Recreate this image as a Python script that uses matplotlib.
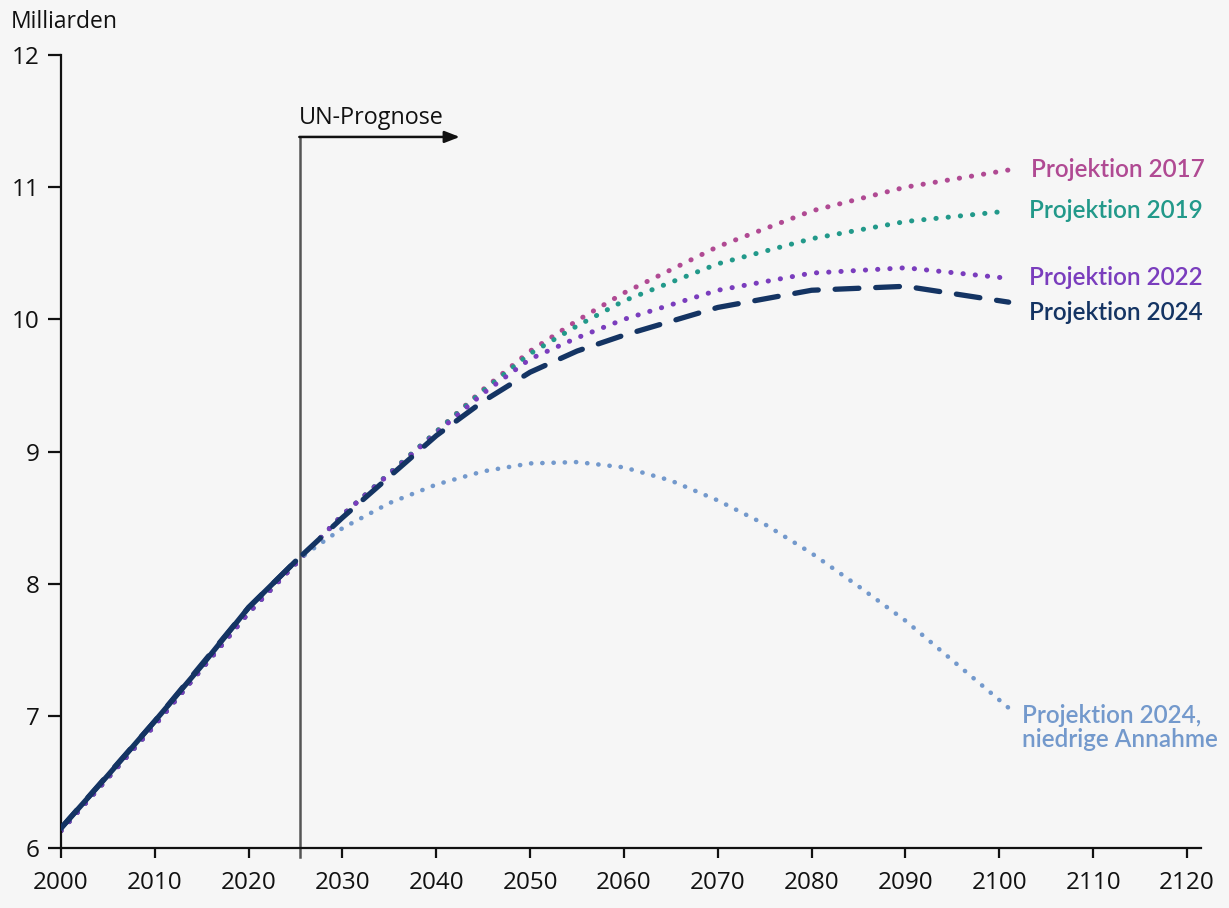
import matplotlib
matplotlib.use("Agg")
import matplotlib.pyplot as plt
import numpy as np

# ---- data (billions) ----
hist_years = [2000, 2005, 2010, 2015, 2020, 2025]
hist_vals = [6.15, 6.55, 6.96, 7.38, 7.82, 8.17]

years = [2000, 2010, 2020, 2025, 2030, 2040, 2045, 2050, 2055, 2060, 2070, 2080, 2090, 2101]
p2017 = [6.13, 6.93, 7.78, 8.15, 8.52, 9.15, 9.47, 9.76, 9.99, 10.20, 10.55, 10.82, 11.00, 11.13]
p2019 = [6.13, 6.93, 7.78, 8.15, 8.52, 9.15, 9.46, 9.74, 9.95, 10.14, 10.42, 10.61, 10.74, 10.82]
p2022 = [6.13, 6.93, 7.78, 8.15, 8.52, 9.14, 9.44, 9.70, 9.86, 10.00, 10.22, 10.35, 10.39, 10.31]
p2024 = [6.15, 6.96, 7.82, 8.17, 8.50, 9.12, 9.38, 9.60, 9.76, 9.88, 10.09, 10.22, 10.25, 10.13]
low_years = [2025, 2030, 2035, 2040, 2045, 2050, 2055, 2060, 2065, 2070, 2075, 2080, 2085, 2090, 2095, 2101]
low_vals = [8.17, 8.42, 8.61, 8.75, 8.85, 8.91, 8.92, 8.88, 8.78, 8.63, 8.45, 8.23, 7.98, 7.72, 7.42, 7.06]

xticks = [2000, 2010, 2020, 2030, 2040, 2050, 2060, 2070, 2080, 2090, 2100, 2110, 2120]
yticks = [6, 7, 8, 9, 10, 11, 12]

labels = ["Projektion 2017", "Projektion 2019", "Projektion 2022", "Projektion 2024",
          "Projektion 2024,\nniedrige Annahme"]
label_y = [11.13, 10.82, 10.32, 10.05, 6.91]

c2017 = "#b04a93"
c2019 = "#22998a"
c2022 = "#7a3dbd"
c2024 = "#143463"
clow = "#7399cc"
bg = "#f6f6f6"

plt.rcParams['font.family'] = ['Open Sans', 'DejaVu Sans']

fig = plt.figure(figsize=(12.29, 9.08), dpi=100, facecolor=bg)
ax = fig.add_axes([61/1229, 60/908, (1201-61)/1229, (848-55)/908])
ax.set_facecolor(bg)

dot = (0, (0.05, 2.4))
ax.plot(years, p2017, color=c2017, lw=3.6, linestyle=dot, dash_capstyle='round', zorder=2)
ax.plot(years, p2019, color=c2019, lw=3.6, linestyle=dot, dash_capstyle='round', zorder=2)
ax.plot(years, p2022, color=c2022, lw=3.6, linestyle=dot, dash_capstyle='round', zorder=2)
ax.plot(low_years, low_vals, color=clow, lw=3.3, linestyle=dot, dash_capstyle='round', zorder=2)
ax.plot(years, p2024, color=c2024, lw=3.8, linestyle=(0, (4.5, 3.2)), dash_capstyle='round', zorder=3)
ax.plot(hist_years, hist_vals, color=c2024, lw=3.8, solid_capstyle='round', zorder=4)

ax.set_xlim(2000, 2121.5)
ax.set_ylim(6, 12)
ax.set_xticks(xticks)
ax.set_yticks(yticks)
ax.tick_params(axis='x', length=7.5, width=1.6, labelsize=17.5, pad=9, colors='#111111')
ax.tick_params(axis='y', length=9.5, width=1.6, labelsize=17.5, pad=6, colors='#111111')
for s in ['top', 'right']:
    ax.spines[s].set_visible(False)
for s in ['left', 'bottom']:
    ax.spines[s].set_linewidth(1.6)
    ax.spines[s].set_color('#111111')

# UN-Prognose marker
ax.plot([2025.5, 2025.5], [5.93, 11.38], color='#555555', lw=1.8, clip_on=False, zorder=1)
ax.annotate("", xy=(2042.5, 11.38), xytext=(2025.4, 11.38),
            arrowprops=dict(arrowstyle='-|>,head_length=0.9,head_width=0.35', color='#111111', lw=1.8,
                            shrinkA=0, shrinkB=0))
ax.text(2025.3, 11.52, "UN-Prognose", fontsize=16.8, ha='left', va='center', color='#111111')

cols = [c2017, c2019, c2022, c2024, clow]
xs = [2103.4, 2103.2, 2103.2, 2103.2, 2102.4]
for t, yv, c, xv in zip(labels, label_y, cols, xs):
    ax.text(xv, yv, t, color=c, fontsize=17.5, fontweight='semibold', ha='left', va='center',
            linespacing=1.05, family=['Lato', 'DejaVu Sans'])

fig.text(11/1229, 1 - 22/908, "Milliarden", fontsize=16.5, ha='left', va='center', color='#111111')

fig.savefig("out.png", dpi=100, facecolor=bg)
